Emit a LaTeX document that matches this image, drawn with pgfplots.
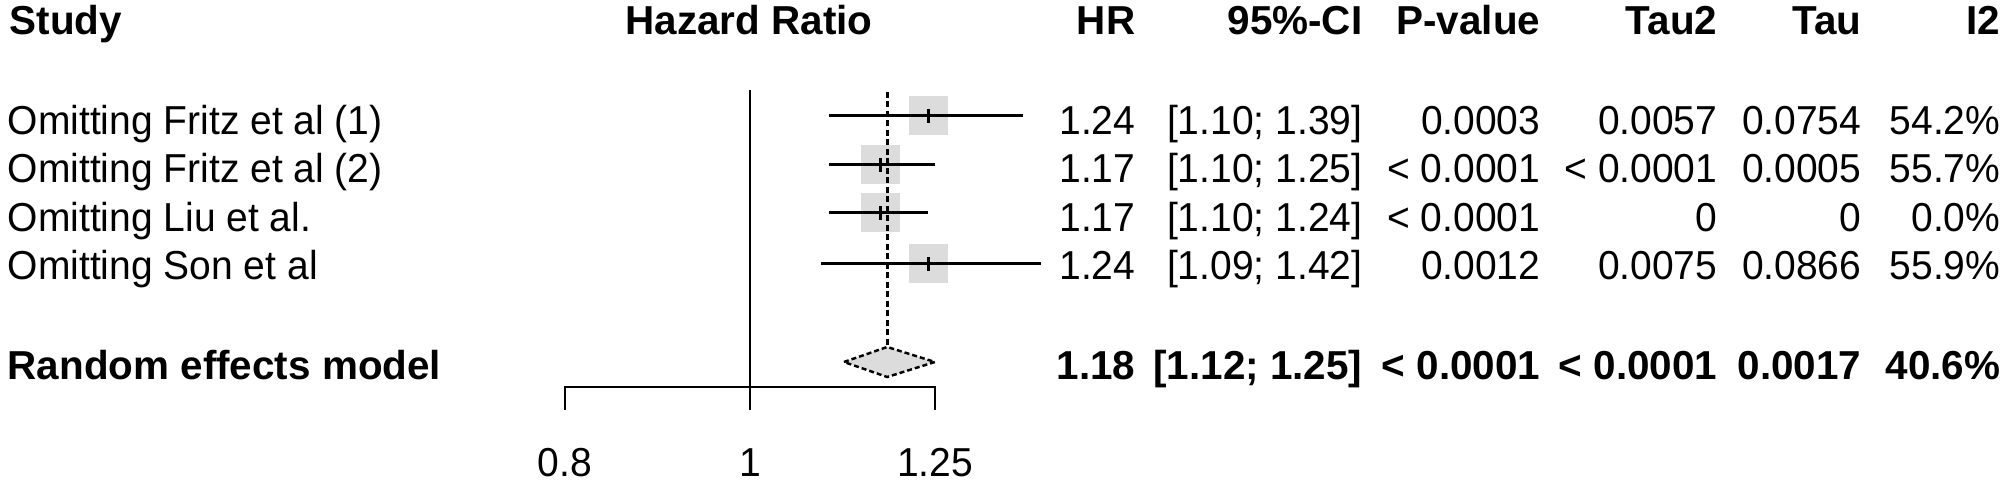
\documentclass[border=0pt]{standalone}
\usepackage{fontspec}
\setmainfont{Liberation Sans}
\newfontfamily\regfont{Liberation Sans}[FakeStretch=0.965]
\usepackage{pgfplots}
\pgfplotsset{compat=1.18}
\definecolor{sqgray}{RGB}{220,220,220}

\begin{document}
\begin{tikzpicture}
% squares first, in their own axis, so that the lines are drawn over them
\begin{axis}[at={(0,0)}, anchor=south west,
  scale only axis, width=20.08cm, height=4.83cm,
  xmode=log, xmin=0.40466, xmax=4.5608, ymin=0, ymax=483,
  hide axis, clip=false]
\addplot[sqgray, only marks, mark=square*, mark size=1.9mm, mark options={fill=sqgray, draw=sqgray, line width=0pt}] coordinates {
  (1.24,367) (1.17,318) (1.17,270) (1.24,219)};
\end{axis}
\begin{axis}[at={(0,0)}, anchor=south west,
  scale only axis, width=20.08cm, height=4.83cm,
  xmode=log, xmin=0.40466, xmax=4.5608, ymin=0, ymax=483,
  hide axis, clip=false]
% reference line at HR = 1
\addplot[black, line width=0.8pt] coordinates {(1,393) (1,73)};
% summary (random effects) line
\addplot[black, line width=0.8pt, dash pattern=on 0.6mm off 0.35mm] coordinates {(1.18,391) (1.18,137)};
% x axis bracket
\addplot[black, line width=0.8pt] coordinates {(0.8,73) (0.8,96) (1.25,96) (1.25,73)};
% confidence intervals
\addplot[black, line width=0.85pt] coordinates {(1.10,367) (1.39,367)};
\addplot[black, line width=0.85pt] coordinates {(1.10,318) (1.25,318)};
\addplot[black, line width=0.85pt] coordinates {(1.10,270) (1.24,270)};
\addplot[black, line width=0.85pt] coordinates {(1.09,219) (1.42,219)};
% estimate ticks
\addplot[black, only marks, mark=|, mark size=0.7mm, mark options={line width=0.8pt, black}] coordinates {
  (1.24,367) (1.17,318) (1.17,270) (1.24,219)};
% summary diamond
\addplot[fill=sqgray, draw=black, line width=0.7pt, dash pattern=on 0.5mm off 0.3mm] coordinates {
  (1.12,121) (1.18,136) (1.25,121) (1.18,106) (1.12,121)};
\end{axis}
\path[use as bounding box] (0,0) rectangle (20.08cm,4.83cm);
\begin{scope}[x=0.1mm, y=0.1mm,
  reg/.style={inner sep=0pt, font=\regfont\fontsize{11.5}{13}\selectfont},
  bld/.style={inner sep=0pt, font=\fontsize{11.5}{13}\selectfont\bfseries}]
% header
\node[bld, anchor=base west] at (9,448) {Study};
\node[bld, anchor=base] at (749,448) {Hazard Ratio};
\node[bld, anchor=base east] at (1136,448) {HR};
\node[bld, anchor=base east] at (1363,448) {95\%-CI};
\node[bld, anchor=base east] at (1541,448) {P-value};
\node[bld, anchor=base east] at (1718,448) {Tau2};
\node[bld, anchor=base east] at (1862,448) {Tau};
\node[bld, anchor=base east] at (2001,448) {I2};
% rows
\node[reg, anchor=base west] at (7,348) {Omitting Fritz et al (1)};
\node[reg, anchor=base east] at (1136,348) {1.24};
\node[reg, anchor=base east] at (1363,348) {[1.10; 1.39]};
\node[reg, anchor=base east] at (1541,348) {0.0003};
\node[reg, anchor=base east] at (1718,348) {0.0057};
\node[reg, anchor=base east] at (1862,348) {0.0754};
\node[reg, anchor=base east] at (2001,348) {54.2\%};

\node[reg, anchor=base west] at (7,300) {Omitting Fritz et al (2)};
\node[reg, anchor=base east] at (1136,300) {1.17};
\node[reg, anchor=base east] at (1363,300) {[1.10; 1.25]};
\node[reg, anchor=base east] at (1541,300) {< 0.0001};
\node[reg, anchor=base east] at (1718,300) {< 0.0001};
\node[reg, anchor=base east] at (1862,300) {0.0005};
\node[reg, anchor=base east] at (2001,300) {55.7\%};

\node[reg, anchor=base west] at (7,251) {Omitting Liu et al.};
\node[reg, anchor=base east] at (1136,251) {1.17};
\node[reg, anchor=base east] at (1363,251) {[1.10; 1.24]};
\node[reg, anchor=base east] at (1541,251) {< 0.0001};
\node[reg, anchor=base east] at (1718,251) {0};
\node[reg, anchor=base east] at (1862,251) {0};
\node[reg, anchor=base east] at (2001,251) {0.0\%};

\node[reg, anchor=base west] at (7,203) {Omitting Son et al};
\node[reg, anchor=base east] at (1136,203) {1.24};
\node[reg, anchor=base east] at (1363,203) {[1.09; 1.42]};
\node[reg, anchor=base east] at (1541,203) {0.0012};
\node[reg, anchor=base east] at (1718,203) {0.0075};
\node[reg, anchor=base east] at (1862,203) {0.0866};
\node[reg, anchor=base east] at (2001,203) {55.9\%};

\node[bld, anchor=base west] at (7,103) {Random effects model};
\node[bld, anchor=base east] at (1136,103) {1.18};
\node[bld, anchor=base east] at (1363,103) {[1.12; 1.25]};
\node[bld, anchor=base east] at (1541,103) {< 0.0001};
\node[bld, anchor=base east] at (1718,103) {< 0.0001};
\node[bld, anchor=base east] at (1862,103) {0.0017};
\node[bld, anchor=base east] at (2001,103) {40.6\%};
% tick labels
\node[reg, anchor=base] at (565,6) {0.8};
\node[reg, anchor=base] at (750,6) {1};
\node[reg, anchor=base] at (935,6) {1.25};
\end{scope}
\end{tikzpicture}
\end{document}
